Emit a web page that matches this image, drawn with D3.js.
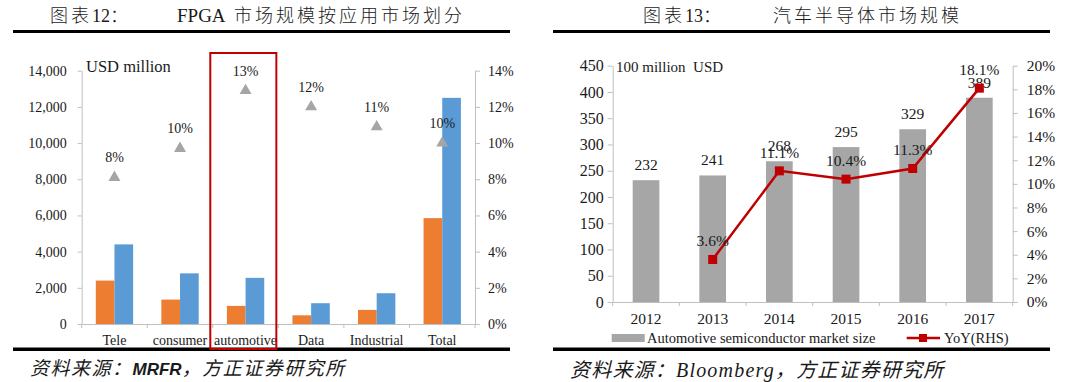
<!DOCTYPE html>
<html>
<head>
<meta charset="utf-8">
<script src="https://cdn.jsdelivr.net/npm/d3@7"></script>
<style>
  html, body { margin: 0; padding: 0; background: #fff; }
  svg { display: block; }
  text { font-family: "Liberation Serif", "Noto Sans CJK SC", serif; fill: #1a1a1a; }
</style>
</head>
<body>
<div id="chart"></div>
<script>
// ---- left chart: FPGA market by application
const fpgaCats = ["Tele", "consumer", "automotive", "Data", "Industrial", "Total"];
const fpgaOrange = [2400, 1350, 1000, 480, 780, 5850];
const fpgaBlue = [4400, 2800, 2550, 1150, 1700, 12500];
const fpgaGrowth = [0.081, 0.097, 0.129, 0.12, 0.109, 0.10];
const fpgaTicks = [0, 2000, 4000, 6000, 8000, 10000, 12000, 14000];
const fpgaPctTicks = [0, 0.02, 0.04, 0.06, 0.08, 0.10, 0.12, 0.14];

// ---- right chart: automotive semiconductor market
const years = ["2012", "2013", "2014", "2015", "2016", "2017"];
const autoSize = [232, 241, 268, 295, 329, 389];
const autoYoY = [null, 0.036, 0.111, 0.104, 0.113, 0.181];
const autoTicks = [0, 50, 100, 150, 200, 250, 300, 350, 400, 450];
const autoPctTicks = [0, 0.02, 0.04, 0.06, 0.08, 0.10, 0.12, 0.14, 0.16, 0.18, 0.20];

const width = 1080, height = 382;
const axisColor = "#bfbfbf";

let svg = d3.select("#chart")
    .append("svg")
    .attr("width", width)
    .attr("height", height);

function styleAxis(g, size) {
    g.select(".domain").attr("stroke", axisColor);
    g.selectAll(".tick line").attr("stroke", axisColor);
    g.selectAll(".tick text")
        .attr("fill", "#1a1a1a")
        .style("font-family", "Liberation Serif, serif")
        .style("font-size", size + "px");
}

// headers, rules, sources
function header(x0, x1, label, latin, cjk, labelX, titleX) {
    let t1 = svg.append("text").attr("x", labelX).attr("y", 22)
        .style("font-size", "18px").style("font-weight", 300);
    t1.append("tspan").style("letter-spacing", "3px").text(label[0]);
    t1.append("tspan").text(label[1]);
    t1.append("tspan").text(label[2]);
    let t2 = svg.append("text").attr("x", titleX).attr("y", 22)
        .style("font-size", "18px").style("font-weight", 300)
        .style("white-space", "pre");
    if (latin) t2.append("tspan").style("font-size", "19px").text(latin);
    t2.append("tspan").style("letter-spacing", "3px").text(cjk);
    svg.append("rect").attr("x", x0).attr("y", 30).attr("width", x1 - x0).attr("height", 3).attr("fill", "#000");
    svg.append("rect").attr("x", x0).attr("y", 347.5).attr("width", x1 - x0).attr("height", 3.5).attr("fill", "#000");
}
header(13, 510, ["图表", "12", "："], "FPGA  ", "市场规模按应用市场划分", 50, 177);
header(553, 1050, ["图表", "13", "："], "", "汽车半导体市场规模", 643, 773);

let src1 = svg.append("text").attr("x", 30).attr("y", 375)
    .style("font-size", "19px").style("font-style", "italic");
src1.append("tspan").style("letter-spacing", "1.5px").text("资料来源：");
src1.append("tspan")
    .style("font-family", "Liberation Sans Narrow, Liberation Sans, sans-serif")
    .style("font-weight", "bold").style("font-size", "17px")
    .text("MRFR");
src1.append("tspan").style("letter-spacing", "1.5px").text("，方正证券研究所");

svg.append("text").attr("x", 570).attr("y", 377)
    .style("font-size", "20px").style("font-style", "italic").style("letter-spacing", "1.2px")
    .text("资料来源：Bloomberg，方正证券研究所");

// ================= left chart =================
(function () {
    let x = d3.scaleBand().domain(fpgaCats).range([81.7, 475]);
    let y = d3.scaleLinear().domain([0, 14000]).range([324, 70.7]);
    let yr = d3.scaleLinear().domain([0, 0.14]).range([324, 70.7]);
    let sub = d3.scaleBand().domain([0, 1]).range([0, x.bandwidth()]).paddingOuter(0.755);

    let g = svg.append("g");

    g.append("g").attr("transform", "translate(81.7,0)")
        .call(d3.axisLeft(y).tickValues(fpgaTicks).tickFormat(d3.format(","))
            .tickSizeInner(4).tickSizeOuter(0).tickPadding(11))
        .call(a => styleAxis(a, 14));

    g.append("g").attr("transform", "translate(475,0)")
        .call(d3.axisRight(yr).tickValues(fpgaPctTicks).tickFormat(d3.format(".0%"))
            .tickSizeInner(5).tickSizeOuter(0).tickPadding(8))
        .call(a => styleAxis(a, 14));

    g.append("g").attr("transform", "translate(0,324)")
        .call(d3.axisBottom(x).tickSize(0).tickPadding(11))
        .call(a => styleAxis(a, 14));
    // category boundary ticks
    g.selectAll(".bound").data(fpgaCats.map(c => x(c)).concat([x.range()[1]]))
        .join("line")
        .attr("x1", d => d).attr("x2", d => d)
        .attr("y1", 324).attr("y2", 328)
        .attr("stroke", axisColor);

    g.selectAll(".barO").data(fpgaCats).join("rect")
        .attr("x", d => x(d) + sub(0))
        .attr("width", sub.bandwidth())
        .attr("y", (d, i) => y(fpgaOrange[i]))
        .attr("height", (d, i) => y(0) - y(fpgaOrange[i]))
        .attr("fill", "#ed7d31");

    g.selectAll(".barB").data(fpgaCats).join("rect")
        .attr("x", d => x(d) + sub(1))
        .attr("width", sub.bandwidth())
        .attr("y", (d, i) => y(fpgaBlue[i]))
        .attr("height", (d, i) => y(0) - y(fpgaBlue[i]))
        .attr("fill", "#5b9bd5");

    let tri = d3.symbol(d3.symbolTriangle, 62);
    g.selectAll(".tri").data(fpgaCats).join("path")
        .attr("d", tri)
        .attr("transform", (d, i) => `translate(${x(d) + x.bandwidth() / 2},${yr(fpgaGrowth[i])})`)
        .attr("fill", "#a5a5a5");

    g.selectAll(".triLabel").data(fpgaCats).join("text")
        .attr("x", d => x(d) + x.bandwidth() / 2)
        .attr("y", (d, i) => yr(fpgaGrowth[i]) - 15)
        .attr("text-anchor", "middle")
        .style("font-size", "14px")
        .text((d, i) => d3.format(".0%")(fpgaGrowth[i]));

    g.append("text").attr("x", 86).attr("y", 71.5)
        .style("font-size", "16.5px").text("USD million");

    // highlight box round the automotive column
    g.append("rect")
        .attr("x", x("automotive") - 2.5)
        .attr("y", 53)
        .attr("width", x.bandwidth() + 0.5)
        .attr("height", 296)
        .attr("fill", "none")
        .attr("stroke", "#c00000")
        .attr("stroke-width", 2);
})();

// ================= right chart =================
(function () {
    let x = d3.scaleBand().domain(years).range([612.7, 1012.7]);
    let y = d3.scaleLinear().domain([0, 450]).range([302, 65.7]);
    let yr = d3.scaleLinear().domain([0, 0.20]).range([302, 65.7]);
    let bw = x.bandwidth() * 0.4;
    let cx = d => x(d) + x.bandwidth() / 2;

    let g = svg.append("g");

    g.append("g").attr("transform", "translate(612.7,0)")
        .call(d3.axisLeft(y).tickValues(autoTicks).tickSizeInner(5).tickSizeOuter(0).tickPadding(4))
        .call(a => styleAxis(a, 16));

    g.append("g").attr("transform", "translate(1012.7,0)")
        .call(d3.axisRight(yr).tickValues(autoPctTicks).tickFormat(d3.format(".0%"))
            .tickSizeInner(5).tickSizeOuter(0).tickPadding(9))
        .call(a => styleAxis(a, 15.5));

    g.append("g").attr("transform", "translate(0,302)")
        .call(d3.axisBottom(x).tickSize(0).tickPadding(11))
        .call(a => styleAxis(a, 15.5));
    g.selectAll(".bound").data(years.map(c => x(c)).concat([x.range()[1]]))
        .join("line")
        .attr("x1", d => d).attr("x2", d => d)
        .attr("y1", 302).attr("y2", 306)
        .attr("stroke", axisColor);

    g.selectAll(".bar").data(years).join("rect")
        .attr("x", d => cx(d) - bw / 2)
        .attr("width", bw)
        .attr("y", (d, i) => y(autoSize[i]))
        .attr("height", (d, i) => y(0) - y(autoSize[i]))
        .attr("fill", "#a6a6a6");

    g.selectAll(".barLabel").data(years).join("text")
        .attr("x", cx)
        .attr("y", (d, i) => y(autoSize[i]) - 10)
        .attr("text-anchor", "middle")
        .style("font-size", "15.5px")
        .text((d, i) => autoSize[i]);

    let pts = years.map((d, i) => ({year: d, v: autoYoY[i]})).filter(p => p.v != null);

    g.append("path")
        .datum(pts)
        .attr("fill", "none")
        .attr("stroke", "#c00000")
        .attr("stroke-width", 2.5)
        .attr("d", d3.line().x(p => cx(p.year)).y(p => yr(p.v)));

    g.selectAll(".mk").data(pts).join("rect")
        .attr("x", p => cx(p.year) - 4.5)
        .attr("y", p => yr(p.v) - 4.5)
        .attr("width", 9).attr("height", 9)
        .attr("fill", "#c00000");

    g.selectAll(".yoyLabel").data(pts).join("text")
        .attr("x", p => cx(p.year))
        .attr("y", p => yr(p.v) - 13)
        .attr("text-anchor", "middle")
        .style("font-size", "15.5px")
        .text(p => d3.format(".1%")(p.v));

    g.append("text").attr("x", 616).attr("y", 72)
        .style("font-size", "15px").style("white-space", "pre").text("100 million  USD");

    // legend
    g.append("rect").attr("x", 611.7).attr("y", 334).attr("width", 33).attr("height", 8).attr("fill", "#a6a6a6");
    g.append("text").attr("x", 647).attr("y", 343).style("font-size", "14.5px")
        .text("Automotive semiconductor market size");
    g.append("line").attr("x1", 906.7).attr("x2", 940).attr("y1", 338).attr("y2", 338)
        .attr("stroke", "#c00000").attr("stroke-width", 2.5);
    g.append("rect").attr("x", 919).attr("y", 334).attr("width", 8).attr("height", 8).attr("fill", "#c00000");
    g.append("text").attr("x", 944).attr("y", 343).style("font-size", "14.5px").text("YoY(RHS)");
})();
</script>
</body>
</html>
